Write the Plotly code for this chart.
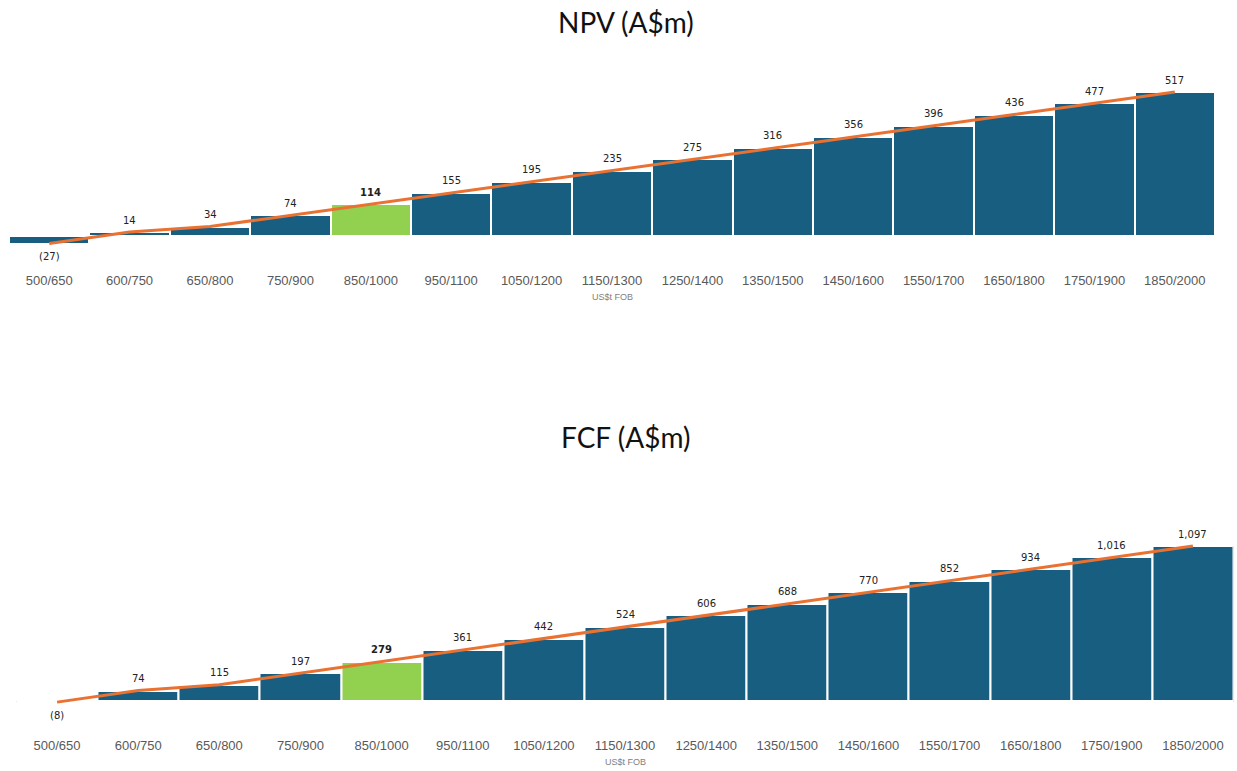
import plotly.graph_objects as go
from plotly.subplots import make_subplots

# Price scenarios (US$/t FOB)
scenarios = ["500/650", "600/750", "650/800", "750/900", "850/1000", "950/1100",
             "1050/1200", "1150/1300", "1250/1400", "1350/1500", "1450/1600",
             "1550/1700", "1650/1800", "1750/1900", "1850/2000"]
npv_values = [-27, 14, 34, 74, 114, 155, 195, 235, 275, 316, 356, 396, 436, 477, 517]
fcf_values = [-8, 74, 115, 197, 279, 361, 442, 524, 606, 688, 770, 852, 934, 1016, 1097]
base_case = "850/1000"

BLUE = "#175E81"
GREEN = "#92D050"
ORANGE = "#E97132"


def fmt(v):
    s = f"{abs(v):,}"
    return f"({s})" if v < 0 else s


colors = [GREEN if c == base_case else BLUE for c in scenarios]

fig = make_subplots(rows=2, cols=1)

for row, vals in ((1, npv_values), (2, fcf_values)):
    fig.add_trace(go.Bar(
        x=scenarios, y=vals, marker=dict(color=colors, line=dict(color="#FFFFFF", width=2)),
        showlegend=False, hoverinfo="skip"), row=row, col=1)
    fig.add_trace(go.Scatter(
        x=scenarios, y=vals, mode="lines", line=dict(color=ORANGE, width=3),
        showlegend=False, hoverinfo="skip", cliponaxis=False), row=row, col=1)
    # value labels just beyond each bar end
    for c, v in zip(scenarios, vals):
        txt = fmt(v)
        if c == base_case:
            txt = f"<b>{txt}</b>"
        fig.add_annotation(
            x=c, y=v, xref=f"x{'' if row == 1 else row}", yref=f"y{'' if row == 1 else row}",
            text=txt, showarrow=False, yanchor="middle",
            yshift=12 if v >= 0 else -13,
            font=dict(family="DejaVu Sans", size=10, color="#222222"))

axis_common = dict(showgrid=False, showline=False, ticks="", type="category",
                   range=[-0.5, 14.5],
                   tickfont=dict(family="Liberation Sans", size=13, color="#595959"))
fig.update_layout(
    width=1237, height=771, margin=dict(l=0, r=0, t=0, b=0),
    paper_bgcolor="white", plot_bgcolor="white", bargap=0,
    xaxis=dict(domain=[9 / 1237, 1215 / 1237], **axis_common),
    xaxis2=dict(domain=[16.5 / 1237, 1233.5 / 1237], **axis_common),
    yaxis=dict(domain=[1 - 271 / 771, 1 - 60 / 771], range=[-125.7, 632],
               showgrid=False, showticklabels=False, zeroline=True,
               zerolinecolor="#D9D9D9", zerolinewidth=1),
    yaxis2=dict(domain=[1 - 736 / 771, 1 - 520 / 771], range=[-247.7, 1281],
                showgrid=False, showticklabels=False, zeroline=True,
                zerolinecolor="#D9D9D9", zerolinewidth=1),
)

title_font = dict(family="Lato", size=28, color="#111111")
fig.add_annotation(text="NPV (A$m)", xref="paper", yref="paper", x=0.506, y=1 - 22 / 771,
                   showarrow=False, font=title_font, yanchor="middle")
fig.add_annotation(text="FCF (A$m)", xref="paper", yref="paper", x=0.506, y=1 - 437 / 771,
                   showarrow=False, font=title_font, yanchor="middle")

unit_font = dict(family="Liberation Sans", size=9, color="#7F7F7F")
fig.add_annotation(text="US$t FOB", xref="x domain", yref="paper", x=0.5, y=1 - 297 / 771,
                   showarrow=False, font=unit_font, yanchor="middle")
fig.add_annotation(text="US$t FOB", xref="x2 domain", yref="paper", x=0.5, y=1 - 762 / 771,
                   showarrow=False, font=unit_font, yanchor="middle")

fig.write_html("out.html")
